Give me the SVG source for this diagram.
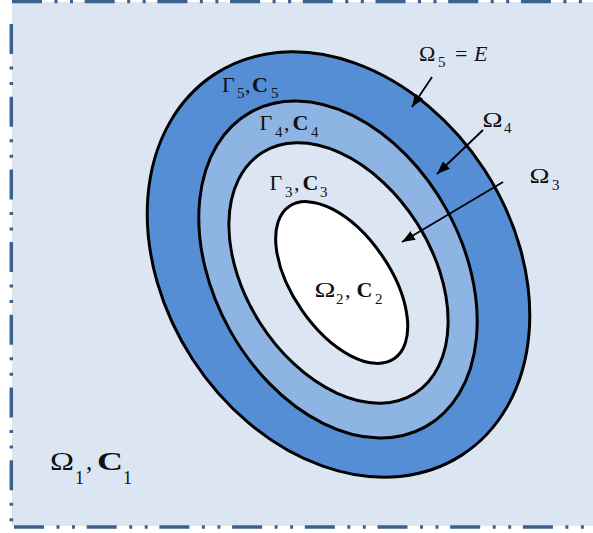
<svg xmlns="http://www.w3.org/2000/svg" width="593" height="533" viewBox="0 0 593 533">
<style>
.bd{stroke:#3b6190;stroke-width:3.5;fill:none;stroke-dasharray:30 12.5 3 12.5 3 11.7}
.el{stroke:#000;stroke-width:3}
.t{font-family:"Liberation Serif",serif;font-size:22px;font-weight:400;fill:#111}
.b{font-weight:bold}
.s{font-family:"Liberation Serif",serif;font-size:15px;fill:#111}
.i{font-style:italic}
.ar{stroke:#000;stroke-width:1.8;fill:none;marker-end:url(#ah)}
</style>
<defs>
<marker id="ah" markerWidth="13" markerHeight="10" refX="13" refY="5" orient="auto" markerUnits="userSpaceOnUse"><path d="M0,0 L13,5 L0,10 z" fill="#000"/></marker>
</defs>
<g id="background">
<rect x="12" y="2" width="581" height="524" fill="#dce6f2"/>
<line class="bd" x1="12" y1="1.5" x2="593" y2="1.5"/>
<line class="bd" x1="11.3" y1="24" x2="11.3" y2="527"/>
<line class="bd" x1="14" y1="527" x2="593" y2="527"/>
</g>
<g id="omega5-ring"><ellipse class="el" cx="338.5" cy="264.5" rx="174" ry="227" transform="rotate(-33 338.5 264.5)" fill="#558ed5"/></g>
<g id="omega4-ring"><ellipse class="el" cx="338" cy="269.5" rx="124" ry="180" transform="rotate(-29 338 269.5)" fill="#8eb4e3"/></g>
<g id="omega3-region"><ellipse class="el" cx="338.5" cy="273" rx="93" ry="142.5" transform="rotate(-32.5 338.5 273)" fill="#dce6f2"/></g>
<g id="omega2-core"><ellipse class="el" cx="341.7" cy="282.5" rx="48.5" ry="92.5" transform="rotate(-34.7 341.7 282.5)" fill="#ffffff"/></g>
<g id="connectors">
<line class="ar" x1="432" y1="77" x2="412" y2="107"/>
<line class="ar" x1="483" y1="130" x2="437" y2="174"/>
<line class="ar" x1="503" y1="182" x2="402" y2="242"/>
</g>
<g id="label-omega5">
<text class="t" x="419" y="61">&#937;</text><text class="s" x="438" y="67">5</text>
<text class="t" x="455" y="61">=</text><text class="t i" x="474" y="61">E</text>
</g>
<g id="label-gamma5">
<text class="t" x="222" y="91.5">&#915;</text><text class="s" x="237" y="97.5">5</text>
<text class="t" x="245" y="91.5">,</text><text class="t b" x="252" y="91.5">C</text><text class="s" x="271" y="97.5">5</text>
</g>
<g id="label-gamma4">
<text class="t" x="259.5" y="130">&#915;</text><text class="s" x="275" y="137">4</text>
<text class="t" x="284" y="130">,</text><text class="t b" x="292.5" y="130">C</text><text class="s" x="311" y="137">4</text>
</g>
<g id="label-gamma3">
<text class="t" x="269.5" y="190">&#915;</text><text class="s" x="285" y="197">3</text>
<text class="t" x="294" y="190">,</text><text class="t b" x="302.5" y="190">C</text><text class="s" x="320" y="197">3</text>
</g>
<g id="label-omega2">
<text class="t" x="314.5" y="297" textLength="21" lengthAdjust="spacingAndGlyphs">&#937;</text><text class="s" x="336" y="304">2</text>
<text class="t" x="345" y="297">,</text><text class="t b" x="356.5" y="297">C</text><text class="s" x="375" y="304">2</text>
</g>
<g id="label-omega4">
<text class="t" x="482.5" y="127" textLength="20" lengthAdjust="spacingAndGlyphs">&#937;</text><text class="s" x="504" y="133">4</text>
</g>
<g id="label-omega3">
<text class="t" x="529.5" y="183" textLength="20" lengthAdjust="spacingAndGlyphs">&#937;</text><text class="s" x="552" y="190">3</text>
</g>
<g id="label-omega1">
<text class="t" x="50" y="470" style="font-size:25px" textLength="24" lengthAdjust="spacingAndGlyphs">&#937;</text><text class="s" x="75" y="484" style="font-size:18px">1</text>
<text class="t" x="86" y="470" style="font-size:25px">,</text><text class="t b" x="97" y="470" style="font-size:25px" textLength="26" lengthAdjust="spacingAndGlyphs">C</text><text class="s" x="123" y="484" style="font-size:18px">1</text>
</g>
</svg>
